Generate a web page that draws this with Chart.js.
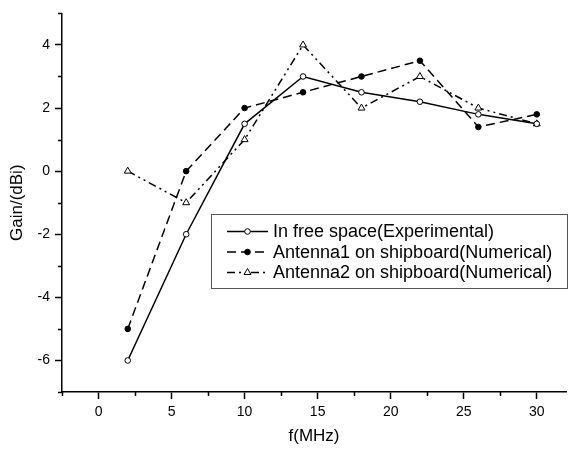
<!DOCTYPE html>
<html>
<head>
<meta charset="utf-8">
<script src="https://cdn.jsdelivr.net/npm/chart.js@4/dist/chart.umd.min.js"></script>
<style>
	body { margin: 0; background: #fff; }
	#wrap { width: 571px; height: 451px; position: relative; }
</style>
</head>
<body>
<div id="wrap"><canvas id="chart-gain"></canvas></div>
<script>
// ----------------------------------------------
// Data
// ----------------------------------------------
const FREQUENCIES = [2, 6, 10, 14, 18, 22, 26, 30];
const FREE_SPACE = [-6, -2, 1.5, 3, 2.5, 2.2, 1.8, 1.5];
const ANTENNA1 = [-5, 0, 2, 2.5, 3, 3.5, 1.4, 1.8];
const ANTENNA2 = [0, -1, 1, 4, 2, 3, 2, 1.5];
const SERIES_LABELS = [
	"In free space(Experimental)",
	"Antenna1 on shipboard(Numerical)",
	"Antenna2 on shipboard(Numerical)",
];
const X_TICKS = [0, 5, 10, 15, 20, 25, 30];
const X_MINOR = [-2.5, 2.5, 7.5, 12.5, 17.5, 22.5, 27.5];
const Y_TICKS = [-6, -4, -2, 0, 2, 4];
const Y_MINOR = [-7, -5, -3, -1, 1, 3, 5];

const FONT = "'Liberation Sans', Arial, Helvetica, sans-serif";
const BLACK = "#000";

const toPoints = (ys) => FREQUENCIES.map((x, i) => ({ x: x, y: ys[i] }));

// ----------------------------------------------
// Minor ticks + legend drawn inside the plot
// ----------------------------------------------
const minorTicks = {
	id: "minorTicks",
	afterDraw(chart) {
		const { ctx, scales } = chart;
		const xs = scales.x;
		const ys = scales.y;
		ctx.save();
		ctx.strokeStyle = BLACK;
		ctx.lineWidth = 1.5;
		ctx.beginPath();
		X_MINOR.forEach((v) => {
			const px = Math.round(xs.getPixelForValue(v)) + 0.5;
			ctx.moveTo(px, xs.top);
			ctx.lineTo(px, xs.top + 4);
		});
		Y_MINOR.forEach((v) => {
			const py = Math.round(ys.getPixelForValue(v)) + 0.5;
			ctx.moveTo(ys.right, py);
			ctx.lineTo(ys.right - 4, py);
		});
		ctx.stroke();
		ctx.restore();
	},
};

const boxLegend = {
	id: "boxLegend",
	afterDraw(chart) {
		const { ctx } = chart;
		const box = { left: 211.5, top: 214.5, right: 567.5, bottom: 288.5 };
		ctx.save();
		ctx.strokeStyle = "#555";
		ctx.lineWidth = 1;
		ctx.strokeRect(box.left, box.top, box.right - box.left, box.bottom - box.top);

		chart.data.datasets.forEach((ds, i) => {
			const y = 231.5 + i * 20.5;
			ctx.strokeStyle = BLACK;
			ctx.lineWidth = 1.5;
			ctx.setLineDash(ds.borderDash || []);
			ctx.beginPath();
			ctx.moveTo(227, y);
			ctx.lineTo(268, y);
			ctx.stroke();
			ctx.setLineDash([]);
			ctx.fillStyle = ds.pointBackgroundColor;
			ctx.strokeStyle = BLACK;
			ctx.lineWidth = 1;
			Chart.helpers.drawPoint(ctx, {
				pointStyle: ds.pointStyle,
				radius: ds.pointRadius,
				rotation: 0,
				borderWidth: 1,
			}, 247.5, y);
			ctx.fillStyle = BLACK;
			ctx.font = "18px " + FONT;
			ctx.textBaseline = "middle";
			ctx.textAlign = "left";
			ctx.fillText(ds.label, 273, y + 1);
		});
		ctx.restore();
	},
};

// ----------------------------------------------
// Chart
// ----------------------------------------------
const CHART_DATA = {
	datasets: [
		{
			label: SERIES_LABELS[0],
			data: toPoints(FREE_SPACE),
			borderColor: BLACK,
			borderWidth: 1.5,
			pointStyle: "circle",
			pointRadius: 2.8,
			pointBackgroundColor: "#fff",
			pointBorderColor: BLACK,
			pointBorderWidth: 1,
		},
		{
			label: SERIES_LABELS[1],
			data: toPoints(ANTENNA1),
			borderColor: BLACK,
			borderWidth: 1.5,
			borderDash: [9, 5],
			pointStyle: "circle",
			pointRadius: 2.8,
			pointBackgroundColor: BLACK,
			pointBorderColor: BLACK,
			pointBorderWidth: 1,
		},
		{
			label: SERIES_LABELS[2],
			data: toPoints(ANTENNA2),
			borderColor: BLACK,
			borderWidth: 1.5,
			borderDash: [8, 4, 2, 4, 2, 4],
			pointStyle: "triangle",
			pointRadius: 4,
			pointBackgroundColor: "#fff",
			pointBorderColor: BLACK,
			pointBorderWidth: 1,
		},
	],
};

const axisGrid = {
	drawOnChartArea: false,
	drawTicks: true,
	tickLength: 7,
	tickColor: BLACK,
	tickWidth: 1.5,
};

const CHART_CONFIG = {
	type: "scatter",
	data: CHART_DATA,
	options: {
		animation: false,
		responsive: true,
		maintainAspectRatio: false,
		showLine: true,
		layout: {
			padding: { top: 9, right: 1, left: 0, bottom: 0 },
		},
		elements: {
			line: { tension: 0, fill: false },
		},
		plugins: {
			legend: { display: false },
			title: { display: false },
			tooltip: { enabled: false },
		},
		scales: {
			x: {
				type: "linear",
				min: -2.5,
				max: 32,
				border: { display: true, color: BLACK, width: 1.5 },
				grid: { ...axisGrid },
				afterBuildTicks: (scale) => {
					scale.ticks = X_TICKS.map((v) => ({ value: v }));
				},
				afterFit: (scale) => {
					scale.height = 59;
				},
				ticks: {
					color: BLACK,
					padding: 5,
					maxRotation: 0,
					font: { family: FONT, size: 14 },
				},
				title: {
					display: true,
					text: "f(MHz)",
					color: BLACK,
					font: { family: FONT, size: 17 },
					padding: { top: 0, bottom: 4 },
				},
			},
			y: {
				type: "linear",
				min: -7,
				max: 5,
				border: { display: true, color: BLACK, width: 1.5 },
				grid: { ...axisGrid },
				afterBuildTicks: (scale) => {
					scale.ticks = Y_TICKS.map((v) => ({ value: v }));
				},
				afterFit: (scale) => {
					scale.width = 62;
				},
				ticks: {
					color: BLACK,
					padding: 5,
					font: { family: FONT, size: 14 },
				},
				title: {
					display: true,
					text: "Gain/(dBi)",
					color: BLACK,
					font: { family: FONT, size: 17 },
					padding: { top: 7, bottom: 0 },
				},
			},
		},
	},
	plugins: [minorTicks, boxLegend],
};

const CHART_WRAPPER = document.getElementById("chart-gain");
if (CHART_WRAPPER) {
	new Chart(CHART_WRAPPER, CHART_CONFIG);
}
</script>
</body>
</html>
